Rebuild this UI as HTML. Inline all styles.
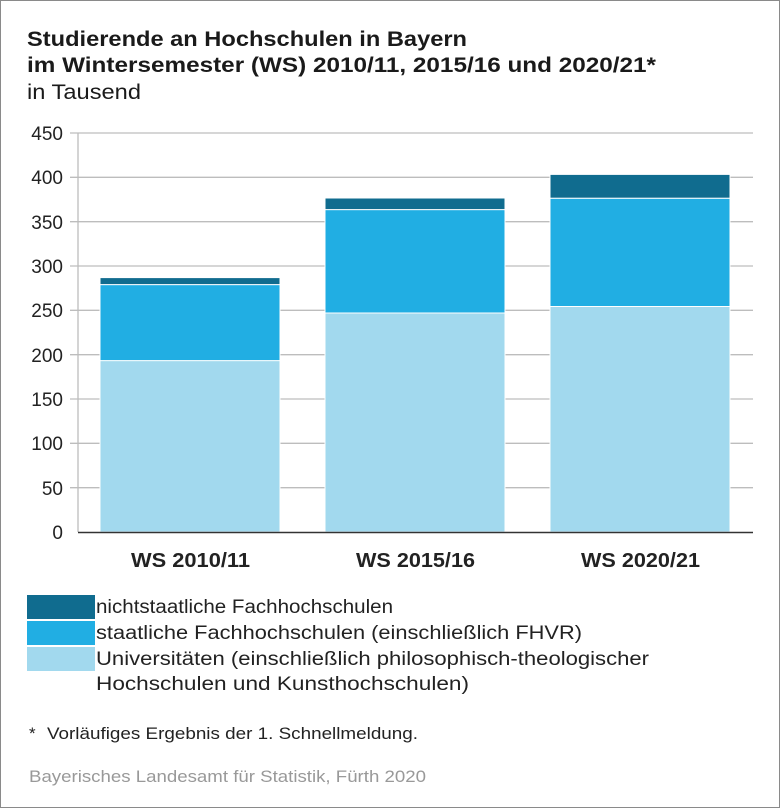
<!DOCTYPE html>
<html><head><meta charset="utf-8"><style>
body{margin:0;background:#fff;}
.f{position:relative;width:778px;height:806px;border:1px solid #8a8a8a;font-family:"Liberation Sans",sans-serif;color:#222;overflow:hidden}
</style></head><body><div class="f">
<svg width="778" height="806" style="position:absolute;left:0;top:0" font-family="Liberation Sans, sans-serif">
<g lengthAdjust="spacingAndGlyphs">
<text x="26" y="45" font-size="21" font-weight="bold" fill="#1a1a1a" textLength="440" lengthAdjust="spacingAndGlyphs">Studierende an Hochschulen in Bayern</text>
<text x="26" y="71" font-size="21" font-weight="bold" fill="#1a1a1a" textLength="629" lengthAdjust="spacingAndGlyphs">im Wintersemester (WS) 2010/11, 2015/16 und 2020/21*</text>
<text x="26" y="98" font-size="21" fill="#1a1a1a" textLength="114" lengthAdjust="spacingAndGlyphs">in Tausend</text>
</g>
<g stroke="#bdbdbd" stroke-width="1.3">
<line x1="69" x2="752" y1="132" y2="132"/><line x1="69" x2="752" y1="176.3" y2="176.3"/>
<line x1="69" x2="752" y1="220.7" y2="220.7"/><line x1="69" x2="752" y1="265" y2="265"/>
<line x1="69" x2="752" y1="309.3" y2="309.3"/><line x1="69" x2="752" y1="353.7" y2="353.7"/>
<line x1="69" x2="752" y1="398" y2="398"/><line x1="69" x2="752" y1="442.3" y2="442.3"/>
<line x1="69" x2="752" y1="486.7" y2="486.7"/>
<line x1="77" x2="77" y1="132" y2="531"/>
</g>
<g font-size="19" fill="#222" text-anchor="end">
<text x="62" y="139">450</text><text x="62" y="183">400</text><text x="62" y="228">350</text>
<text x="62" y="272">300</text><text x="62" y="316">250</text><text x="62" y="361">200</text>
<text x="62" y="405">150</text><text x="62" y="449">100</text><text x="62" y="494">50</text>
<text x="62" y="538">0</text>
</g>
<g stroke="#fff" stroke-width="1">
<rect x="99" y="359.6" width="180" height="171.4" fill="#a2d9ee"/>
<rect x="99" y="283.6" width="180" height="76" fill="#21aee3"/>
<rect x="99" y="276.6" width="180" height="7" fill="#106c8f"/>
<rect x="324" y="312" width="180" height="219" fill="#a2d9ee"/>
<rect x="324" y="208.6" width="180" height="103.4" fill="#21aee3"/>
<rect x="324" y="197" width="180" height="11.6" fill="#106c8f"/>
<rect x="549" y="305.5" width="180" height="225.5" fill="#a2d9ee"/>
<rect x="549" y="197.2" width="180" height="108.3" fill="#21aee3"/>
<rect x="549" y="173.4" width="180" height="23.8" fill="#106c8f"/>
</g>
<line x1="77" x2="752" y1="531.5" y2="531.5" stroke="#333" stroke-width="1.6"/>
<g font-size="20" font-weight="bold" fill="#222">
<text x="130" y="566" textLength="119" lengthAdjust="spacingAndGlyphs">WS 2010/11</text>
<text x="355" y="566" textLength="119" lengthAdjust="spacingAndGlyphs">WS 2015/16</text>
<text x="580" y="566" textLength="119" lengthAdjust="spacingAndGlyphs">WS 2020/21</text>
</g>
<rect x="26" y="594" width="68" height="24" fill="#106c8f"/>
<rect x="26" y="620" width="68" height="24" fill="#21aee3"/>
<rect x="26" y="646" width="68" height="24" fill="#a2d9ee"/>
<g font-size="19" fill="#222">
<text x="95" y="612" textLength="297" lengthAdjust="spacingAndGlyphs">nichtstaatliche Fachhochschulen</text>
<text x="95" y="638" textLength="486" lengthAdjust="spacingAndGlyphs">staatliche Fachhochschulen (einschließlich FHVR)</text>
<text x="95" y="664" textLength="553" lengthAdjust="spacingAndGlyphs">Universitäten (einschließlich philosophisch-theologischer</text>
<text x="95" y="689" textLength="373" lengthAdjust="spacingAndGlyphs">Hochschulen und Kunsthochschulen)</text>
</g>
<text x="28" y="738" font-size="17" fill="#222">*</text>
<text x="46" y="738" font-size="17" fill="#222" textLength="371" lengthAdjust="spacingAndGlyphs">Vorläufiges Ergebnis der 1. Schnellmeldung.</text>
<text x="28" y="781" font-size="17" fill="#999" textLength="397" lengthAdjust="spacingAndGlyphs">Bayerisches Landesamt für Statistik, Fürth 2020</text>
</svg>
</div></body></html>
